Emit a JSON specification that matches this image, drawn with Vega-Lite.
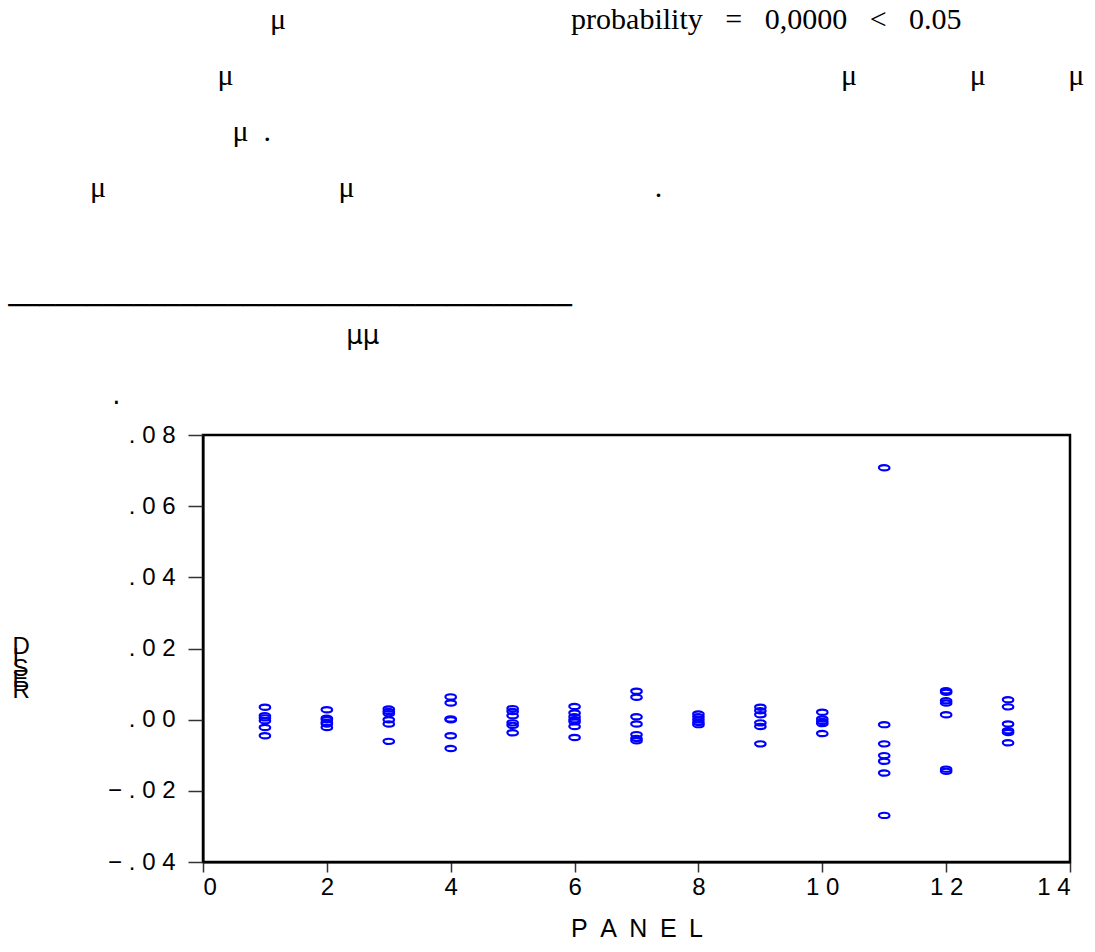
{
  "$schema": "https://vega.github.io/schema/vega-lite/v6.json",
  "width": 867,
  "height": 427,
  "autosize": {"type": "none"},
  "padding": {"left": 203, "top": 435, "right": 25, "bottom": 90},
  "background": "white",
  "title": {
    "text": [
      "\u200b\u2003\u2003\u2003\u2003\u2003\u2003\u2003\u2003\u2003μ\u2003\u2003\u2003\u2003\u2003\u2003\u2003\u2003\u2003\u00a0\u00a0probability\u00a0\u00a0\u00a0=\u00a0\u00a0\u00a00,0000\u00a0\u00a0\u00a0<\u00a0\u00a0\u00a00.05",
      "\u200b\u2003\u2003\u2003\u2003\u2003\u2003\u2003\u00a0μ\u2003\u2003\u2003\u2003\u2003\u2003\u2003\u2003\u2003\u2003\u2003\u2003\u2003\u2003\u2003\u2003\u2003\u2003\u2003\u2003\u00a0μ\u2003\u2003\u2003\u00a0\u00a0\u00a0μ\u2003\u2003\u00a0\u00a0\u00a0μ",
      "\u200b\u2003\u2003\u2003\u2003\u2003\u2003\u2003\u00a0\u00a0\u00a0μ\u00a0\u00a0.",
      "\u200b\u2003\u2003\u2003μ\u2003\u2003\u2003\u2003\u2003\u2003\u2003\u00a0\u00a0\u00a0μ\u2003\u2003\u2003\u2003\u2003\u2003\u2003\u2003\u2003\u00a0\u00a0\u00a0\u00a0."
    ],
    "subtitle": [
      "\u200b\u00a0────────────────────────────────────",
      "\u200b\u2003\u2003\u2003\u2003\u2003\u2003\u2003\u2003\u2003\u2003\u2003\u2003\u2003\u00a0μμ",
      "\u200b\u00a0",
      "\u200b\u2003\u2003\u2003\u2003\u00a0."
    ],
    "anchor": "start",
    "frame": "group",
    "align": "left",
    "dx": -203,
    "offset": 14,
    "font": "Liberation Serif",
    "fontSize": 30,
    "fontWeight": "normal",
    "color": "black",
    "lineHeight": 56,
    "subtitleFont": "DejaVu Sans",
    "subtitleFontSize": 26,
    "subtitleColor": "black",
    "subtitleLineHeight": 30,
    "subtitlePadding": 90
  },
  "data": {
    "values": [
      {"panel": 1, "resid": 0.0035}, {"panel": 1, "resid": 0.0011}, {"panel": 1, "resid": 0.0005}, {"panel": 1, "resid": -0.0003}, {"panel": 1, "resid": -0.0022}, {"panel": 1, "resid": -0.0045},
      {"panel": 2, "resid": 0.0028}, {"panel": 2, "resid": 0.0004}, {"panel": 2, "resid": 0.0}, {"panel": 2, "resid": -0.0008}, {"panel": 2, "resid": -0.0012}, {"panel": 2, "resid": -0.0022},
      {"panel": 3, "resid": 0.0030}, {"panel": 3, "resid": 0.0023}, {"panel": 3, "resid": 0.0017}, {"panel": 3, "resid": 0.0}, {"panel": 3, "resid": -0.0012}, {"panel": 3, "resid": -0.0061},
      {"panel": 4, "resid": 0.0064}, {"panel": 4, "resid": 0.0047}, {"panel": 4, "resid": 0.0002}, {"panel": 4, "resid": 0.0}, {"panel": 4, "resid": -0.0045}, {"panel": 4, "resid": -0.0081},
      {"panel": 5, "resid": 0.0031}, {"panel": 5, "resid": 0.0023}, {"panel": 5, "resid": 0.0011}, {"panel": 5, "resid": -0.0009}, {"panel": 5, "resid": -0.0016}, {"panel": 5, "resid": -0.0037},
      {"panel": 6, "resid": 0.0037}, {"panel": 6, "resid": 0.0019}, {"panel": 6, "resid": 0.0008}, {"panel": 6, "resid": 0.0}, {"panel": 6, "resid": -0.0006}, {"panel": 6, "resid": -0.0019}, {"panel": 6, "resid": -0.0050},
      {"panel": 7, "resid": 0.0080}, {"panel": 7, "resid": 0.0063}, {"panel": 7, "resid": 0.0008}, {"panel": 7, "resid": -0.0012}, {"panel": 7, "resid": -0.0042}, {"panel": 7, "resid": -0.0053}, {"panel": 7, "resid": -0.0059},
      {"panel": 8, "resid": 0.0016}, {"panel": 8, "resid": 0.0008}, {"panel": 8, "resid": 0.0}, {"panel": 8, "resid": -0.0008}, {"panel": 8, "resid": -0.0014},
      {"panel": 9, "resid": 0.0035}, {"panel": 9, "resid": 0.0025}, {"panel": 9, "resid": 0.0014}, {"panel": 9, "resid": -0.0009}, {"panel": 9, "resid": -0.0019}, {"panel": 9, "resid": -0.0068},
      {"panel": 10, "resid": 0.0021}, {"panel": 10, "resid": 0.0002}, {"panel": 10, "resid": -0.0005}, {"panel": 10, "resid": -0.0011}, {"panel": 10, "resid": -0.0039},
      {"panel": 11, "resid": 0.0708}, {"panel": 11, "resid": -0.0014}, {"panel": 11, "resid": -0.0068}, {"panel": 11, "resid": -0.0101}, {"panel": 11, "resid": -0.0117}, {"panel": 11, "resid": -0.0150}, {"panel": 11, "resid": -0.0269},
      {"panel": 12, "resid": 0.0081}, {"panel": 12, "resid": 0.0077}, {"panel": 12, "resid": 0.0053}, {"panel": 12, "resid": 0.0047}, {"panel": 12, "resid": 0.0014}, {"panel": 12, "resid": -0.0139}, {"panel": 12, "resid": -0.0145},
      {"panel": 13, "resid": 0.0056}, {"panel": 13, "resid": 0.0036}, {"panel": 13, "resid": -0.0012}, {"panel": 13, "resid": -0.0031}, {"panel": 13, "resid": -0.0036}, {"panel": 13, "resid": -0.0065}
    ]
  },
  "mark": {
    "type": "point",
    "shape": "M-1,0A1,0.5 0 1,1 1,0A1,0.5 0 1,1 -1,0Z",
    "filled": false,
    "color": "#0000ff",
    "stroke": "#0000ff",
    "strokeWidth": 2.2,
    "size": 110,
    "opacity": 1
  },
  "encoding": {
    "x": {
      "field": "panel",
      "type": "quantitative",
      "scale": {"domain": [0, 14], "nice": false, "zero": false},
      "axis": {
        "values": [0, 2, 4, 6, 8, 10, 12, 14],
        "labelExpr": "join(split(datum.label, ''), '\u00a0')",
        "labelFont": "Liberation Sans",
        "labelFontSize": 24,
        "labelColor": "black",
        "labelPadding": 3,
        "tickSize": 10,
        "tickWidth": 1.5,
        "tickColor": "#333333",
        "domainColor": "black",
        "domainWidth": 2,
        "grid": false,
        "title": "P\u2002A\u2002N\u2002E\u2002L",
        "titleFont": "Liberation Sans",
        "titleFontSize": 25,
        "titleFontWeight": "normal",
        "titleColor": "black",
        "titlePadding": 17
      }
    },
    "y": {
      "field": "resid",
      "type": "quantitative",
      "scale": {"domain": [-0.04, 0.08], "nice": false, "zero": false},
      "axis": {
        "values": [-0.04, -0.02, 0, 0.02, 0.04, 0.06, 0.08],
        "labelExpr": "join(split(replace(format(datum.value, '.2f'), '0.', '.'), ''), '\u00a0')",
        "labelFont": "Liberation Sans",
        "labelFontSize": 24,
        "labelColor": "black",
        "labelPadding": 13,
        "tickSize": 15,
        "tickWidth": 1.5,
        "tickColor": "#333333",
        "domainColor": "black",
        "domainWidth": 2,
        "grid": false,
        "title": ["D", "I", "S", "E", "R"],
        "titleAngle": 0,
        "titleAlign": "left",
        "titleBaseline": "alphabetic",
        "titleX": -191,
        "titleY": 218,
        "titleFont": "Liberation Sans",
        "titleFontSize": 24,
        "titleFontWeight": "normal",
        "titleColor": "black",
        "titleLineHeight": 11
      }
    }
  },
  "config": {
    "view": {"stroke": "black", "strokeWidth": 2.5}
  }
}
